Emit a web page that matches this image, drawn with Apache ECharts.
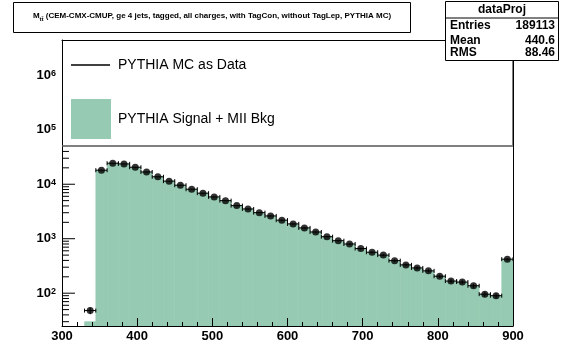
<!DOCTYPE html>
<html><head><meta charset="utf-8">
<script src="https://cdn.jsdelivr.net/npm/echarts@6/dist/echarts.min.js"></script>
<style>html,body{margin:0;padding:0;background:#fff}#c{width:564px;height:346px}</style>
</head><body><div id="c"></div>
<script>
const binLow = [330,345,360,375,390,405,420,435,450,465,480,495,510,525,540,555,570,585,600,615,630,645,660,675,690,705,720,735,750,765,780,795,810,825,840,855,870,885];
const binWidth = 15;
const dataValues = [48,18100,24300,23600,20500,16800,13700,11400,9600,8100,6850,5850,5000,4050,3520,3010,2620,2190,1870,1580,1330,1090,920,800,660,565,500,396,331,291,257,205,167,160,137,96,90,421];
const mcValues = [30,18100,24300,23600,20500,16800,13700,11400,9600,8100,6850,5850,5000,4050,3520,3010,2620,2190,1870,1580,1330,1090,920,800,660,565,500,396,331,291,257,205,167,160,137,96,90,421];
const xTickLabels = [300,400,500,600,700,800,900];
const legendNames = ['PYTHIA MC as Data','PYTHIA Signal + MII Bkg'];
const statNames = ['Entries','Mean','RMS'];
const statValues = ['189113','440.6','88.46'];
const statTitle = 'dataProj';
const titleMain = 'M';
const titleSub = 'tt\u0304';
const titleRest = ' (CEM-CMX-CMUP, ge 4 jets, tagged, all charges, with TagCon, without TagLep, PYTHIA MC)';

const FONT = 'Liberation Sans';
const GREEN = '#96cab2';
const Y_MIN = 25, Y_MAX = 4.44e6, X_MIN = 300, X_MAX = 900;

const histData = binLow.map((lo, i) => [lo, lo + binWidth, mcValues[i]]);
const errData = binLow.map((lo, i) => [lo + binWidth / 2, dataValues[i], lo, lo + binWidth]);
const markData = binLow.map((lo, i) => [lo + binWidth / 2, dataValues[i]]);
const yTicks = [];
for (let e = 1; e <= 6; e++) {
  for (let m = 1; m <= 9; m++) {
    const v = m * Math.pow(10, e);
    if (v >= Y_MIN && v <= Y_MAX) yTicks.push([X_MIN, v, m === 1 ? 1 : 0]);
  }
}

const chart = echarts.init(document.getElementById('c'), null, {renderer: 'canvas'});
const option = {
  animation: false,
  grid: {left: 62, right: 51, top: 40, bottom: 20, show: false},
  xAxis: [{
    type: 'value', min: X_MIN, max: X_MAX, interval: 100, z: 5,
    axisLine: {show: true, lineStyle: {color: '#000', width: 1}},
    axisTick: {show: true, inside: true, length: 8, lineStyle: {color: '#000'}},
    minorTick: {show: true, splitNumber: 5, length: 4, lineStyle: {color: '#000'}},
    splitLine: {show: false},
    axisLabel: {margin: 4, color: '#000',
      formatter: v => xTickLabels.includes(v) ? '{b|' + v + '}' : '',
      rich: {b: {fontFamily: FONT, fontSize: 13, fontWeight: 'bold', color: '#000'}}}
  }, {
    type: 'value', position: 'top', min: X_MIN, max: X_MAX, z: 5,
    axisLine: {show: true, lineStyle: {color: '#000'}}, axisTick: {show: false},
    axisLabel: {show: false}, splitLine: {show: false}
  }],
  yAxis: [{
    type: 'log', logBase: 10, min: Y_MIN, max: Y_MAX, z: 5,
    axisLine: {show: true, lineStyle: {color: '#000'}},
    axisTick: {show: false}, splitLine: {show: false},
    axisLabel: {margin: 6, color: '#000',
      formatter: function (v) {
        const e = Math.log10(v); const r = Math.round(e);
        if (Math.abs(e - r) > 1e-6) return '';
        return '{b|10}{s|' + r + '}';
      },
      rich: {
        b: {fontFamily: FONT, fontSize: 13, fontWeight: 'bold', color: '#000', lineHeight: 13, verticalAlign: 'bottom'},
        s: {fontFamily: FONT, fontSize: 9, fontWeight: 'bold', color: '#000', lineHeight: 9, verticalAlign: 'top', padding: [0, 0, 7, 0]}
      }
    }
  }, {
    type: 'log', position: 'right', min: Y_MIN, max: Y_MAX, z: 5,
    axisLine: {show: true, lineStyle: {color: '#000'}}, axisTick: {show: false},
    axisLabel: {show: false}, splitLine: {show: false}
  }],
  series: [
    {
      type: 'custom', name: legendNames[1], data: histData, z: 1,
      encode: {x: [0, 1], y: 2},
      renderItem: function (params, api) {
        const p0 = api.coord([api.value(0), api.value(2)]);
        const p1 = api.coord([api.value(1), Y_MIN]);
        return {type: 'rect', shape: {x: p0[0], y: p0[1], width: p1[0] - p0[0], height: p1[1] - p0[1]},
          style: {fill: GREEN, stroke: GREEN, lineWidth: 0.6}};
      }
    },
    {
      type: 'custom', name: 'yticks', data: yTicks, z: 6, silent: true,
      encode: {x: 0, y: 1},
      renderItem: function (params, api) {
        const p = api.coord([api.value(0), api.value(1)]);
        const len = api.value(2) ? 13 : 7;
        return {type: 'line', shape: {x1: p[0], y1: p[1], x2: p[0] + len, y2: p[1]},
          style: {stroke: '#000', lineWidth: 1}};
      }
    },
    {
      type: 'custom', name: legendNames[0] + ' err', data: errData, z: 7,
      encode: {x: 0, y: 1},
      renderItem: function (params, api) {
        const c = api.value(0), v = api.value(1), lo = api.value(2), hi = api.value(3);
        const a = api.coord([lo, v]), b = api.coord([hi, v]);
        const e = Math.sqrt(v);
        const t = api.coord([c, v + e]), d = api.coord([c, Math.max(v - e, Y_MIN)]);
        const st = {stroke: '#000', lineWidth: 1};
        return {type: 'group', children: [
          {type: 'line', shape: {x1: a[0], y1: a[1], x2: b[0], y2: b[1]}, style: st},
          {type: 'line', shape: {x1: a[0], y1: a[1] - 2, x2: a[0], y2: a[1] + 2}, style: st},
          {type: 'line', shape: {x1: b[0], y1: b[1] - 2, x2: b[0], y2: b[1] + 2}, style: st},
          {type: 'line', shape: {x1: t[0], y1: t[1], x2: d[0], y2: d[1]}, style: st}
        ]};
      }
    },
    {
      type: 'scatter', name: legendNames[0], data: markData, z: 8,
      symbol: 'circle', symbolSize: 7, itemStyle: {color: '#000'}
    }
  ],
  graphic: [
    {type: 'rect', z: 100, shape: {x: 62.5, y: 40.5, width: 450.5, height: 105},
      style: {fill: '#fff', stroke: '#000', lineWidth: 1}},
    {type: 'line', z: 101, shape: {x1: 62.5, y1: 146, x2: 513, y2: 146}, style: {stroke: '#808080', lineWidth: 2}},
    {type: 'line', z: 101, shape: {x1: 71, y1: 65, x2: 110, y2: 65}, style: {stroke: '#000', lineWidth: 1.3}},
    {type: 'text', z: 101, x: 118, y: 65, style: {text: legendNames[0], font: '14px "' + FONT + '"', fill: '#000', verticalAlign: 'middle'}},
    {type: 'rect', z: 101, shape: {x: 71, y: 99, width: 40, height: 40}, style: {fill: GREEN}},
    {type: 'text', z: 101, x: 118, y: 119, style: {text: legendNames[1], font: '14px "' + FONT + '"', fill: '#000', verticalAlign: 'middle'}},
    {type: 'rect', z: 100, shape: {x: 13.5, y: 2.5, width: 397, height: 30}, style: {fill: '#fff', stroke: '#000', lineWidth: 1}},
    {type: 'text', z: 101, x: 212, y: 17, style: {
      text: '{m|' + titleMain + '}{sub|' + titleSub + '}{m|' + titleRest + '}',
      align: 'center', verticalAlign: 'middle',
      rich: {
        m: {fontFamily: FONT, fontSize: 8, fontWeight: 'bold', fill: '#000', lineHeight: 10, verticalAlign: 'top'},
        sub: {fontFamily: FONT, fontSize: 6, fontWeight: 'bold', fill: '#000', lineHeight: 6, verticalAlign: 'bottom', padding: [6, 0, 0, 0]}
      }}},
    {type: 'rect', z: 100, shape: {x: 445.5, y: 1.5, width: 113, height: 59}, style: {fill: '#fff', stroke: '#000', lineWidth: 1}},
    {type: 'line', z: 101, shape: {x1: 445.5, y1: 18, x2: 558.5, y2: 18}, style: {stroke: '#000', lineWidth: 1}},
    {type: 'text', z: 101, x: 502, y: 10, style: {text: statTitle, font: 'bold 12px "' + FONT + '"', fill: '#000', align: 'center', verticalAlign: 'middle'}},
    {type: 'text', z: 101, x: 450, y: 25.5, style: {text: statNames[0], font: 'bold 12px "' + FONT + '"', fill: '#000', verticalAlign: 'middle'}},
    {type: 'text', z: 101, x: 450, y: 40.5, style: {text: statNames[1], font: 'bold 12px "' + FONT + '"', fill: '#000', verticalAlign: 'middle'}},
    {type: 'text', z: 101, x: 450, y: 53, style: {text: statNames[2], font: 'bold 12px "' + FONT + '"', fill: '#000', verticalAlign: 'middle'}},
    {type: 'text', z: 101, x: 555, y: 25.5, style: {text: statValues[0], font: 'bold 12px "' + FONT + '"', fill: '#000', align: 'right', verticalAlign: 'middle'}},
    {type: 'text', z: 101, x: 555, y: 40.5, style: {text: statValues[1], font: 'bold 12px "' + FONT + '"', fill: '#000', align: 'right', verticalAlign: 'middle'}},
    {type: 'text', z: 101, x: 555, y: 53, style: {text: statValues[2], font: 'bold 12px "' + FONT + '"', fill: '#000', align: 'right', verticalAlign: 'middle'}}
  ]
};
chart.setOption(option);
</script>
</body></html>
